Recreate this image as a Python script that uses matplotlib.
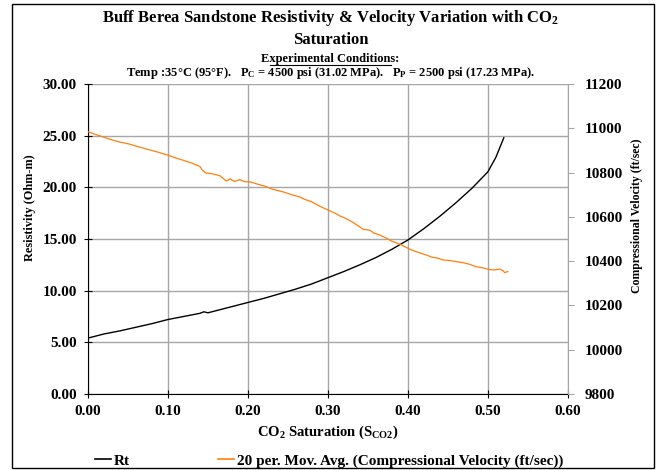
import matplotlib
matplotlib.use("Agg")
import matplotlib.pyplot as plt
from matplotlib.lines import Line2D
from matplotlib.patches import Rectangle

plt.rcParams['font.family'] = 'Liberation Serif'
plt.rcParams['font.weight'] = 'bold'
plt.rcParams['mathtext.fontset'] = 'custom'
plt.rcParams['mathtext.rm'] = 'Liberation Serif:bold'
plt.rcParams['mathtext.it'] = 'Liberation Serif:bold'
plt.rcParams['mathtext.bf'] = 'Liberation Serif:bold'
plt.rcParams['mathtext.default'] = 'rm'

# Resistivity (Rt) vs CO2 saturation
rt_sat = [0.00, 0.02, 0.04, 0.06, 0.08, 0.10, 0.12, 0.14, 0.145, 0.15,
          0.16, 0.18, 0.20, 0.22, 0.24, 0.26, 0.28, 0.30, 0.32, 0.34,
          0.36, 0.38, 0.40, 0.42, 0.44, 0.46, 0.48, 0.50, 0.51, 0.52]
rt_vals = [5.40, 5.80, 6.10, 6.45, 6.80, 7.20, 7.50, 7.80, 7.95, 7.85,
           8.05, 8.45, 8.85, 9.25, 9.70, 10.15, 10.65, 11.25, 11.85, 12.50,
           13.20, 14.00, 14.90, 16.00, 17.20, 18.50, 19.90, 21.50, 22.90, 24.80]

# 20 per. moving average of compressional velocity (ft/sec)
vp_sat = [0.000, 0.010, 0.020, 0.030, 0.040, 0.052, 0.060, 0.070, 0.080, 0.090,
          0.100, 0.110, 0.120, 0.130, 0.140, 0.143, 0.147, 0.155, 0.165, 0.173,
          0.178, 0.183, 0.190, 0.196, 0.203, 0.212, 0.222, 0.231, 0.245, 0.255,
          0.264, 0.272, 0.280, 0.290, 0.302, 0.310, 0.315, 0.322, 0.330, 0.337,
          0.344, 0.352, 0.358, 0.365, 0.372, 0.380, 0.386, 0.392, 0.398, 0.403,
          0.410, 0.416, 0.423, 0.430, 0.437, 0.444, 0.452, 0.460, 0.469, 0.477,
          0.485, 0.493, 0.502, 0.508, 0.515, 0.519, 0.521, 0.525]
vp_vals = [10985, 10972, 10960, 10948, 10938, 10929, 10920, 10910, 10900, 10890,
           10879, 10866, 10855, 10843, 10828, 10812, 10799, 10795, 10786, 10762,
           10772, 10760, 10768, 10759, 10758, 10748, 10738, 10725, 10712, 10700,
           10691, 10678, 10668, 10648, 10628, 10615, 10604, 10594, 10578, 10562,
           10544, 10540, 10526, 10518, 10506, 10490, 10482, 10473, 10462, 10453,
           10443, 10436, 10428, 10418, 10414, 10405, 10403, 10398, 10393, 10386,
           10375, 10370, 10362, 10360, 10364, 10357, 10348, 10353]

fig = plt.figure(figsize=(6.61, 4.70), dpi=100)
ax1 = fig.add_axes([0.133, 0.162, 0.726, 0.659])
ax2 = ax1.twinx()

grid_c = '#a6a6a6'
ax1.plot(rt_sat, rt_vals, color='black', lw=1.0, zorder=3)
ax2.plot(vp_sat, vp_vals, color='#ff7f0e', lw=0.9, zorder=3)

ax1.set_xlim(0, 0.6)
ax1.set_ylim(0, 30)
ax2.set_ylim(9800, 11200)
ax1.set_xticks([0.0, 0.1, 0.2, 0.3, 0.4, 0.5, 0.6])
ax1.set_yticks([0, 5, 10, 15, 20, 25, 30])
ax2.set_yticks([9800, 10000, 10200, 10400, 10600, 10800, 11000, 11200])
ax1.set_xticklabels(['%.2f' % v for v in ax1.get_xticks()])
ax1.set_yticklabels(['%.2f' % v for v in ax1.get_yticks()])
ax2.set_yticklabels(['%d' % v for v in ax2.get_yticks()])

ax1.grid(True, color=grid_c, lw=1.0)
ax1.set_axisbelow(True)
ax1.spines['top'].set_visible(False)
ax2.spines['top'].set_visible(False)
ax2.spines['left'].set_visible(False)
ax2.spines['bottom'].set_visible(False)
ax1.spines['right'].set_visible(False)
ax1.spines['left'].set_color('black')
ax1.spines['bottom'].set_color('black')
ax2.spines['right'].set_color(grid_c)

ax1.tick_params(axis='x', direction='inout', length=6, labelsize=11, pad=5)
ax1.tick_params(axis='y', direction='inout', length=6, labelsize=11, pad=5)
ax2.tick_params(axis='y', direction='out', length=4, color=grid_c, labelsize=11, pad=8)

ax1.set_xlabel('CO$_2$ Saturation (S$_{CO2}$)', fontsize=10.5, fontweight='bold', labelpad=4)

# axis titles on the sides sit a bit above the plot centre
fig.text(30 / 661, 1 - 208 / 470, 'Resistivity (Ohm-m)', rotation=90,
         ha='center', va='center', fontsize=8.8, fontweight='bold')
fig.text(637 / 661, 1 - 216 / 470, 'Compressional Velocity (ft/sec)', rotation=90,
         ha='center', va='center', fontsize=8.5, fontweight='bold')

fig.text(0.5, 0.962, 'Buff Berea Sandstone Resistivity & Velocity Variation with CO$_2$',
         ha='center', va='center', fontsize=12, fontweight='bold')
fig.text(0.5, 0.915, 'Saturation', ha='center', va='center', fontsize=12, fontweight='bold')
fig.text(0.5, 0.874, 'Experimental Conditions:', ha='center', va='center',
         fontsize=9, fontweight='bold')
fig.add_artist(Line2D([0.408, 0.592], [0.862, 0.862], color='black', lw=0.8,
                      transform=fig.transFigure))
fig.text(0.5, 0.844, 'Temp :35°C (95°F).   P$_C$ = 4500 psi (31.02 MPa).   '
         'P$_P$ = 2500 psi (17.23 MPa).', ha='center', va='center',
         fontsize=9, fontweight='bold')

handles = [Line2D([], [], color='black', lw=1.2),
           Line2D([], [], color='#ff7f0e', lw=1.2)]
fig.legend(handles, ['Rt', '20 per. Mov. Avg. (Compressional Velocity (ft/sec))'],
           loc='center left', bbox_to_anchor=(0.135, 1 - 461 / 470), ncol=2,
           frameon=False, fontsize=11, handlelength=1.0, handletextpad=0.2,
           columnspacing=5.8, borderaxespad=0.0)

fig.add_artist(Rectangle((12 / 661, 1 - 468 / 470), 642 / 661, 464 / 470,
                         fill=False, edgecolor='black', lw=1.0,
                         transform=fig.transFigure))

fig.savefig('out.png', dpi=100)
